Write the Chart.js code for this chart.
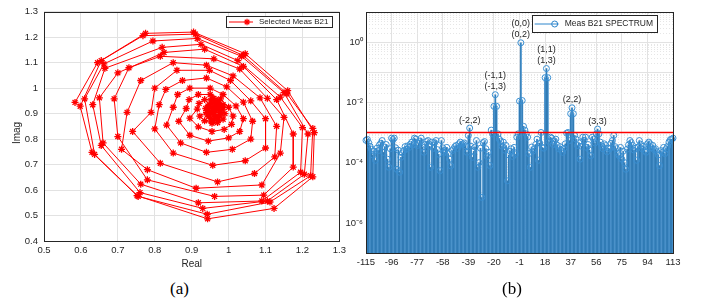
<!DOCTYPE html>
<html>
<head>
<meta charset="utf-8">
<script src="https://cdn.jsdelivr.net/npm/chart.js@4.4.0/dist/chart.umd.min.js"></script>
<style>
  body { margin: 0; background: #fff; width: 701px; height: 306px; position: relative; overflow: hidden; }
  canvas { position: absolute; top: 0; }
  #chart { left: 0; }
  #chart_spec { left: 330px; }
  .cap { position: absolute; top: 280px; font: 17px "Liberation Serif", "Times New Roman", serif; line-height: 17px; color: #000; }
</style>
</head>
<body>
<canvas id="chart" width="350" height="272"></canvas>
<canvas id="chart_spec" width="371" height="272"></canvas>
<div class="cap" style="left:170px">(a)</div>
<div class="cap" style="left:502px">(b)</div>
<script>
// (a) selected measurement B21, complex plane, outer turn first
const spiralReal = [
  0.584, 0.645, 0.775, 0.905, 1.045, 1.160, 1.232, 1.228, 1.123, 0.943, 0.752, 0.630,
  0.598, 0.655, 0.768, 0.910, 1.040, 1.158, 1.228, 1.222, 1.112, 0.942, 0.755, 0.637,
  0.610, 0.662, 0.795, 0.915, 1.035, 1.150, 1.215, 1.205, 1.105, 0.930, 0.760, 0.655,
  0.632, 0.665, 0.820, 0.925, 1.025, 1.140, 1.200, 1.195, 1.090, 0.918, 0.762, 0.660,
  0.650, 0.700, 0.825, 0.935, 1.040, 1.130, 1.175, 1.175, 1.095, 0.962, 0.780, 0.700,
  0.690, 0.730, 0.815, 0.960, 1.030, 1.105, 1.150, 1.140, 1.090, 0.912, 0.780, 0.710,
  0.725, 0.762, 0.850, 0.940, 1.012, 1.085, 1.130, 1.125, 1.070, 0.970, 0.815, 0.740,
  0.790, 0.800, 0.860, 0.948, 1.005, 1.060, 1.100, 1.100, 1.045, 0.957, 0.850, 0.800,
  0.812, 0.830, 0.875, 0.940, 0.995, 1.040, 1.065, 1.060, 1.010, 0.940, 0.870, 0.832,
  0.850, 0.862, 0.895, 0.950, 0.985, 1.020, 1.040, 1.030, 1.000, 0.945, 0.895, 0.865,
  0.885, 0.893, 0.918, 0.950, 0.978, 1.000, 1.012, 1.008, 0.988, 0.955, 0.918, 0.895,
  0.915, 0.920, 0.935, 0.955, 0.970, 0.985, 0.990, 0.985, 0.970, 0.955, 0.935, 0.922,
  0.940, 0.948, 0.962, 0.975, 0.978, 0.968, 0.952, 0.942, 0.950, 0.965, 0.972, 0.960,
  0.945, 0.955, 0.970, 0.982, 0.975, 0.958, 0.946, 0.938, 0.952, 0.968, 0.962, 0.950,
  0.958, 0.965, 0.980, 0.972, 0.955, 0.944, 0.960, 0.975, 0.985, 0.963, 0.953
];
const spiralImag = [
  0.944, 1.100, 1.215, 1.220, 1.135, 0.990, 0.825, 0.652, 0.528, 0.487, 0.578, 0.748,
  0.929, 1.108, 1.206, 1.212, 1.128, 0.978, 0.842, 0.656, 0.553, 0.505, 0.575, 0.740,
  0.958, 1.095, 1.185, 1.195, 1.125, 0.982, 0.820, 0.662, 0.557, 0.528, 0.590, 0.775,
  0.935, 1.078, 1.160, 1.172, 1.108, 0.965, 0.845, 0.670, 0.557, 0.550, 0.623, 0.785,
  0.962, 1.060, 1.140, 1.153, 1.085, 0.955, 0.820, 0.690, 0.580, 0.575, 0.640, 0.810,
  0.958, 1.080, 1.125, 1.115, 1.075, 0.960, 0.885, 0.745, 0.620, 0.607, 0.680, 0.760,
  0.905, 1.030, 1.100, 1.090, 1.048, 0.962, 0.850, 0.730, 0.665, 0.632, 0.705, 0.830,
  0.905, 1.000, 1.070, 1.070, 1.030, 0.950, 0.880, 0.765, 0.715, 0.697, 0.745, 0.840,
  0.935, 0.995, 1.030, 1.040, 1.005, 0.945, 0.870, 0.800, 0.760, 0.748, 0.785, 0.855,
  0.925, 0.975, 1.000, 1.000, 0.975, 0.930, 0.880, 0.830, 0.805, 0.792, 0.815, 0.870,
  0.920, 0.955, 0.975, 0.975, 0.958, 0.925, 0.890, 0.858, 0.838, 0.830, 0.848, 0.882,
  0.918, 0.940, 0.955, 0.958, 0.945, 0.925, 0.900, 0.878, 0.865, 0.862, 0.872, 0.890,
  0.905, 0.935, 0.945, 0.930, 0.905, 0.885, 0.880, 0.895, 0.925, 0.932, 0.915, 0.895,
  0.912, 0.940, 0.940, 0.918, 0.890, 0.875, 0.890, 0.920, 0.950, 0.920, 0.905, 0.900,
  0.918, 0.890, 0.900, 0.875, 0.868, 0.930, 0.960, 0.950, 0.935, 0.925, 0.908
];

// (b) spectrum magnitude, harmonic index -115 .. 113
const specStart = -115;
const spectrum = [
  5.5e-4, 5.9e-4, 4.6e-4, 3.5e-4, 2.8e-4, 1.8e-4, 2.4e-4, 1.2e-4, 3.0e-4, 2.5e-4, 3.9e-4, 4.4e-4, 5.4e-4, 2.2e-4, 3.3e-4, 4.0e-4, 1.3e-4, 7.0e-5, 2.9e-4,
  6.5e-4, 5.8e-4, 6.5e-4, 3.1e-4, 6.0e-5, 2.6e-4, 4.8e-5, 1.5e-4, 2.1e-4, 2.5e-4, 3.4e-4, 2.8e-4, 3.6e-4, 3.2e-4, 4.1e-4, 4.8e-4, 3.9e-4, 6.5e-4, 6.0e-4,
  3.7e-4, 4.4e-4, 5.2e-4, 6.5e-4, 3.3e-4, 2.2e-4, 4.0e-4, 5.0e-4, 5.4e-4, 3.5e-4, 7.0e-5, 4.8e-4, 3.0e-4, 4.6e-4, 5.4e-4, 2.7e-4, 1.9e-4, 5.4e-5, 5.4e-4,
  3.1e-4, 2.2e-4, 2.6e-4, 3.2e-4, 2.0e-4, 1.3e-4, 7.8e-5, 2.5e-4, 2.9e-4, 3.4e-4, 3.7e-4, 3.0e-4, 4.2e-4, 4.8e-4, 3.9e-4, 4.2e-4, 4.5e-4, 3.6e-4, 2.2e-4,
  8.0e-4, 1.4e-3, 3.5e-4, 1.5e-4, 2.4e-4, 3.3e-4, 5.4e-4, 7.0e-5, 1.0e-4, 3.0e-4, 7.0e-6, 4.6e-4, 5.0e-4, 2.9e-4, 1.6e-4, 2.2e-4, 8.0e-5, 1.2e-3, 9.0e-4,
  7.4e-3, 1.8e-2, 7.4e-3, 9.0e-4, 6.0e-4, 5.2e-4, 3.5e-4, 4.8e-4, 2.6e-4, 3.7e-4, 2.5e-5, 1.8e-4, 2.4e-4, 2.9e-4, 1.6e-4, 3.2e-4, 1.9e-4, 7.0e-4, 9.0e-4,
  1.1e-2, 9.5e-1, 1.15e-2, 1.6e-3, 1.2e-3, 9.0e-4, 7.0e-4, 2.0e-4, 7.0e-5, 3.3e-4, 2.4e-4, 2.9e-4, 4.0e-4, 6.0e-4, 1.2e-4, 4.5e-4, 1.0e-3, 3.2e-4, 3.0e-4,
  6.6e-2, 1.33e-1, 6.6e-2, 5.0e-4, 7.0e-4, 6.5e-4, 4.0e-4, 5.2e-4, 6.0e-4, 3.8e-4, 2.9e-4, 3.4e-4, 2.6e-4, 2.2e-4, 3.0e-4, 4.2e-4, 9.5e-4, 1.0e-3, 5.4e-4,
  4.2e-3, 6.6e-3, 4.2e-3, 8.0e-4, 6.0e-4, 3.7e-4, 4.6e-4, 1.3e-4, 3.5e-4, 7.0e-4, 5.5e-4, 7.0e-4, 3.2e-4, 4.0e-4, 2.6e-4, 1.7e-4, 7.0e-4, 6.0e-4, 4.5e-4,
  9.0e-4, 1.3e-3, 9.0e-4, 4.8e-4, 3.6e-4, 2.9e-4, 4.2e-4, 3.7e-4, 2.3e-4, 3.0e-4, 2.9e-4, 4.4e-4, 5.4e-4, 8.0e-4, 3.4e-4, 2.9e-4, 2.0e-4, 1.7e-4, 3.2e-4,
  1.3e-4, 2.4e-4, 1.0e-4, 6.0e-5, 2.8e-4, 3.9e-4, 5.4e-4, 4.6e-4, 3.7e-4, 2.6e-4, 3.0e-4, 1.2e-4, 3.3e-4, 5.4e-4, 4.1e-4, 2.9e-4, 3.5e-4, 2.5e-4, 2.2e-4,
  4.2e-4, 4.8e-4, 4.2e-4, 3.1e-4, 3.7e-4, 2.7e-4, 2.9e-4, 2.3e-4, 1.8e-4, 8.0e-5, 2.5e-4, 2.2e-4, 3.2e-4, 2.0e-4, 2.9e-4, 3.5e-4, 4.8e-4, 5.8e-4, 6.0e-4,
  6.5e-4
];
const threshold = 1e-3;
const xTickLabels = ['-115', '-96', '-77', '-58', '-39', '-20', '-1', '18', '37', '56', '75', '94', '113'];
const yTickLabels = { '0': '10\u2070', '-2': '10\u207B\u00B2', '-4': '10\u207B\u2074', '-6': '10\u207B\u2076' };
const peakIdx = [0, 19, -19, 38, -38, 57];
const peakText = [['(0,0)', '(0,2)'], ['(1,1)', '(1,3)'], ['(-1,1)', '(-1,3)'], ['(2,2)'], ['(-2,2)'], ['(3,3)']];

const FONT = '"Liberation Sans", Arial, sans-serif';
const INK = '#262626';
const GRID = '#e2e2e2';
Chart.defaults.font.family = FONT;
Chart.defaults.color = INK;

const specLabels = spectrum.map((_, i) => String(specStart + i));

// matlab-like box around the axes
const axesBox = {
  id: 'axesBox',
  afterDraw(chart) {
    const { ctx, chartArea: a } = chart;
    ctx.save();
    ctx.strokeStyle = INK;
    ctx.lineWidth = 1;
    ctx.strokeRect(Math.round(a.left) + 0.5, Math.round(a.top) + 0.5, Math.round(a.right - a.left), Math.round(a.bottom - a.top));
    ctx.restore();
  }
};

function legendBox(ctx, right, top, h, text, size, drawMarker, color) {
  ctx.save();
  ctx.font = size + 'px ' + FONT;
  const tw = ctx.measureText(text).width;
  const w = 33 + tw + 4;
  const left = right - w;
  ctx.fillStyle = '#fff';
  ctx.fillRect(left, top, w, h);
  ctx.strokeStyle = INK;
  ctx.lineWidth = 1;
  ctx.strokeRect(Math.round(left) + 0.5, top + 0.5, Math.round(w), h);
  const cy = top + h / 2 + 0.5;
  ctx.strokeStyle = color;
  ctx.beginPath();
  ctx.moveTo(left + 3, cy);
  ctx.lineTo(left + 27, cy);
  ctx.stroke();
  drawMarker(ctx, left + 21, cy);
  ctx.fillStyle = INK;
  ctx.textBaseline = 'middle';
  ctx.fillText(text, left + 33, cy);
  ctx.restore();
}

const legendA = {
  id: 'legendA',
  afterDraw(chart) {
    const { ctx, chartArea: a } = chart;
    legendBox(ctx, a.right - 7, 16, 11, 'Selected Meas B21', 8, (c, x, y) => {
      c.fillStyle = '#ff0000';
      c.lineWidth = 1.2;
      c.beginPath();
      for (let k = 0; k < 4; k++) {
        const t = k * Math.PI / 4;
        c.moveTo(x - 3.2 * Math.cos(t), y - 3.2 * Math.sin(t));
        c.lineTo(x + 3.2 * Math.cos(t), y + 3.2 * Math.sin(t));
      }
      c.stroke();
    }, '#ff0000');
  }
};

const titlesA = {
  id: 'titlesA',
  afterDraw(chart) {
    const { ctx, chartArea: a } = chart;
    ctx.save();
    ctx.font = '10px ' + FONT;
    ctx.fillStyle = INK;
    ctx.textAlign = 'center';
    ctx.textBaseline = 'middle';
    ctx.fillText('Real', (a.left + a.right) / 2, 264);
    ctx.translate(17, 133);
    ctx.rotate(-Math.PI / 2);
    ctx.fillText('Imag', 0, 0);
    ctx.restore();
  }
};

new Chart(document.getElementById('chart'), {
  type: 'scatter',
  data: {
    datasets: [{
      label: 'Selected Meas B21',
      data: spiralReal.map((x, i) => ({ x, y: spiralImag[i] })),
      showLine: true,
      borderColor: '#ff0000',
      borderWidth: 1,
      pointStyle: 'star',
      pointRadius: 3.5,
      pointBorderColor: '#ff0000',
      pointBackgroundColor: '#ff0000',
      pointBorderWidth: 1.3
    }]
  },
  options: {
    responsive: false,
    animation: false,
    layout: { padding: { top: 6, right: 10, left: 0, bottom: 0 } },
    plugins: { legend: { display: false }, tooltip: { enabled: false } },
    scales: {
      x: {
        type: 'linear', min: 0.5, max: 1.3,
        ticks: { stepSize: 0.1, padding: 4, maxRotation: 0, font: { size: 9.5 }, callback: v => String(+v.toFixed(1)) },
        grid: { color: GRID, drawTicks: false },
        border: { display: false },
        afterFit: s => { s.height = 31; }
      },
      y: {
        min: 0.4, max: 1.3,
        ticks: { stepSize: 0.1, padding: 6, font: { size: 9.5 }, callback: v => String(+v.toFixed(1)) },
        grid: { color: GRID, drawTicks: false },
        border: { display: false },
        afterFit: s => { s.width = 44; }
      }
    }
  },
  plugins: [axesBox, legendA, titlesA]
});

// dotted minor grid of the log axis
const minorGrid = {
  id: 'minorGrid',
  beforeDatasetsDraw(chart) {
    const { ctx, chartArea: a, scales } = chart;
    ctx.save();
    ctx.strokeStyle = '#e6e6e6';
    ctx.lineWidth = 1;
    ctx.setLineDash([1, 2]);
    for (let e = -7; e < 1; e++) {
      for (let m = 2; m < 10; m++) {
        const y = Math.round(scales.y.getPixelForValue(m * Math.pow(10, e))) + 0.5;
        ctx.beginPath();
        ctx.moveTo(a.left, y);
        ctx.lineTo(a.right, y);
        ctx.stroke();
      }
    }
    ctx.restore();
  }
};

const peakNotes = {
  id: 'peakNotes',
  afterDatasetsDraw(chart) {
    const { ctx, scales } = chart;
    ctx.save();
    ctx.font = '9px ' + FONT;
    ctx.fillStyle = INK;
    ctx.textAlign = 'center';
    ctx.textBaseline = 'middle';
    peakIdx.forEach((p, k) => {
      const i = p - specStart;
      const x = scales.x.getPixelForValue(i);
      const y = scales.y.getPixelForValue(spectrum[i]);
      const lines = peakText[k];
      lines.forEach((t, j) => {
        ctx.fillText(t, x, y - 8 - 11 * (lines.length - 1 - j));
      });
    });
    ctx.restore();
  }
};

const legendB = {
  id: 'legendB',
  afterDraw(chart) {
    const { ctx, chartArea: a } = chart;
    legendBox(ctx, a.right - 16, 15, 17, 'Meas B21 SPECTRUM', 8.5, (c, x, y) => {
      c.strokeStyle = '#2f86cc';
      c.lineWidth = 1;
      c.beginPath();
      c.arc(x + 2, y, 3, 0, Math.PI * 2);
      c.stroke();
    }, '#2f86cc');
  }
};

new Chart(document.getElementById('chart_spec'), {
  type: 'bar',
  data: {
    labels: specLabels,
    datasets: [
      {
        type: 'line',
        data: specLabels.map(() => threshold),
        borderColor: '#ff0000',
        borderWidth: 1.3,
        pointRadius: 0,
        order: 0
      },
      {
        type: 'line',
        label: 'Meas B21 SPECTRUM',
        data: spectrum,
        showLine: false,
        pointRadius: 3,
        pointBorderWidth: 1,
        pointBorderColor: '#3a8fd2',
        pointBackgroundColor: 'rgba(0,0,0,0)',
        order: 1
      },
      {
        data: spectrum,
        backgroundColor: '#16649f',
        barPercentage: 0.45,
        categoryPercentage: 1,
        grouped: false,
        order: 2
      },
      {
        data: spectrum,
        backgroundColor: '#5a9fd7',
        barPercentage: 1,
        categoryPercentage: 1,
        grouped: false,
        order: 3
      }
    ]
  },
  options: {
    responsive: false,
    animation: false,
    layout: { padding: { top: 12, right: 28, left: 0, bottom: 0 } },
    plugins: { legend: { display: false }, tooltip: { enabled: false } },
    scales: {
      x: {
        offset: false,
        ticks: {
          autoSkip: false, maxRotation: 0, padding: 4, font: { size: 9.5 },
          callback(v, i) { const l = specLabels[i]; return xTickLabels.includes(l) ? l : ''; }
        },
        grid: {
          offset: false, drawTicks: false,
          color: c => xTickLabels.includes(specLabels[c.index]) ? GRID : 'rgba(0,0,0,0)'
        },
        border: { display: false },
        afterFit: s => { s.height = 19; }
      },
      y: {
        type: 'logarithmic', min: 1e-7, max: 10,
        afterBuildTicks: s => {
          s.ticks = [1e-7, 1e-6, 1e-5, 1e-4, 1e-3, 1e-2, 1e-1, 1, 10].map(v => ({ value: v }));
        },
        ticks: {
          autoSkip: false, padding: 3, font: { size: 9.5 },
          callback: v => yTickLabels[String(Math.round(Math.log10(v)))] || ''
        },
        grid: { color: GRID, drawTicks: false },
        border: { display: false },
        afterFit: s => { s.width = 36; }
      }
    }
  },
  plugins: [minorGrid, peakNotes, axesBox, legendB]
});
</script>
</body>
</html>
